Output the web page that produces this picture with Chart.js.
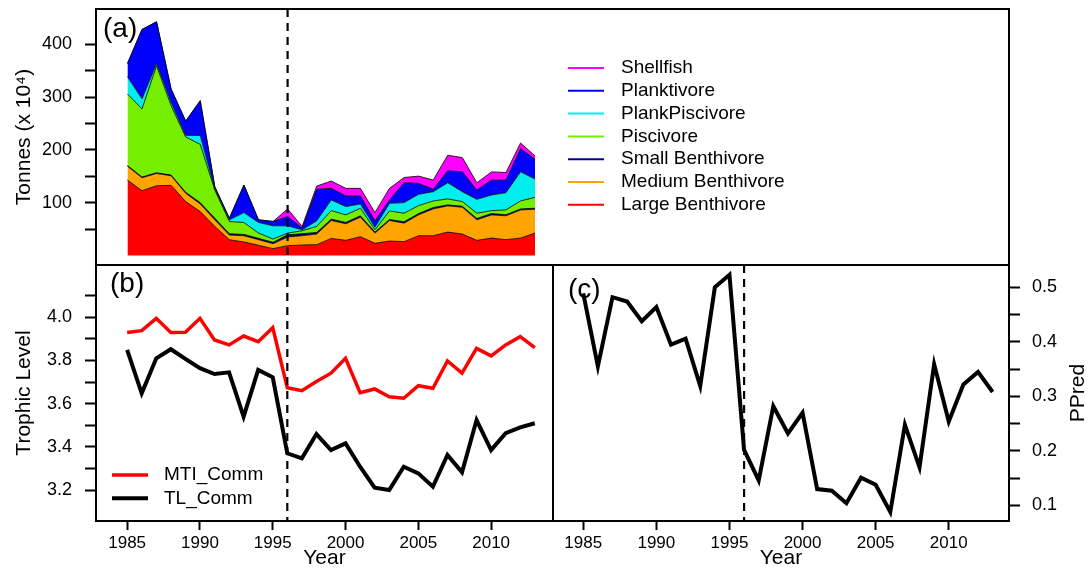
<!DOCTYPE html>
<html>
<head>
<meta charset="utf-8">
<title>Catch composition and trophic indices, 1985-2013</title>
<script src="https://cdn.jsdelivr.net/npm/chart.js@4.4.0/dist/chart.umd.min.js"></script>
<style>
  html, body { margin: 0; padding: 0; background: #fff; }
  #wrap { position: relative; width: 1091px; height: 571px; }
  #wrap canvas { position: absolute; left: 0; top: 0; }
</style>
</head>
<body>
<div id="wrap">
  <canvas id="catchChart" width="1091" height="571"></canvas>
  <canvas id="trophicChart" width="1091" height="571"></canvas>
  <canvas id="predChart" width="1091" height="571"></canvas>
</div>
<script>
// 年份
const years = [1985, 1986, 1987, 1988, 1989, 1990, 1991, 1992, 1993, 1994,
    1995, 1996, 1997, 1998, 1999, 2000, 2001, 2002, 2003, 2004,
    2005, 2006, 2007, 2008, 2009, 2010, 2011, 2012, 2013];

// (a) 各功能群渔获量 (x 10^4 吨)
const largeBenthivore = [142.9, 122.8, 132.2, 132.8, 102.1, 83.2, 55.0, 29.9, 25.5, 19.3,
    13.0, 18.6, 19.9, 20.5, 32.4, 28.7, 35.6, 23.0, 27.4, 26.2,
    37.5, 37.5, 44.4, 40.6, 28.7, 33.0, 30.0, 33.0, 42.5];
const mediumBenthivore = [26.3, 24.5, 23.2, 18.2, 15.7, 14.4, 12.5, 8.8, 11.9, 10.7,
    9.4, 16.3, 17.6, 20.1, 33.9, 31.4, 37.0, 19.4, 38.9, 35.1,
    39.5, 50.8, 49.6, 50.8, 38.9, 43.9, 45.2, 53.3, 45.2];
const smallBenthivore = [1.3, 1.3, 1.3, 1.3, 1.9, 2.5, 3.1, 2.5, 2.5, 2.5,
    2.5, 4.4, 3.8, 3.1, 2.5, 2.5, 2.5, 1.9, 1.9, 2.5,
    2.5, 2.5, 1.9, 1.9, 2.5, 2.5, 1.9, 1.9, 1.9];
const piscivore = [135.5, 129.2, 202.6, 131.7, 104.8, 110.4, 53.3, 23.2, 22.6, 10.0,
    6.3, 3.1, 5.6, 11.3, 16.3, 14.4, 14.4, 4.4, 16.3, 16.3,
    15.1, 12.5, 11.3, 8.8, 10.0, 5.6, 9.4, 15.1, 20.7];
const plankPiscivore = [32.6, 18.8, 4.4, 6.3, 3.1, 16.9, 3.1, 3.1, 18.8, 20.1,
    25.1, 13.8, 1.9, 10.7, 20.1, 15.7, 8.2, 5.0, 14.4, 20.1,
    21.3, 17.6, 30.7, 18.8, 26.3, 29.5, 32.6, 55.2, 34.5];
const planktivore = [25.1, 131.7, 79.0, 25.1, 27.0, 65.9, 3.1, 3.1, 52.1, 5.0,
    8.2, 17.6, 3.1, 59.6, 22.0, 20.1, 15.1, 11.9, 6.3, 37.6,
    20.7, 4.4, 22.6, 37.6, 17.6, 28.2, 23.8, 43.9, 37.6];
const shellfish = [0, 0, 0, 0, 0, 0, 0, 0, 0, 0,
    0, 14.4, 3.1, 6.3, 13.8, 14.4, 14.4, 15.7, 22.0, 10.0,
    13.8, 17.6, 29.5, 27.0, 13.8, 15.7, 14.4, 10.7, 6.3];

// (b) 营养级指数
const mtiComm = [3.929, 3.938, 3.995, 3.929, 3.930, 3.995, 3.895, 3.872, 3.913, 3.887,
    3.952, 3.674, 3.660, 3.702, 3.741, 3.810, 3.651, 3.668, 3.632, 3.625,
    3.683, 3.671, 3.798, 3.741, 3.856, 3.821, 3.872, 3.910, 3.859];
const tlComm = [3.849, 3.648, 3.810, 3.852, 3.807, 3.764, 3.737, 3.745, 3.540, 3.756,
    3.722, 3.370, 3.347, 3.459, 3.385, 3.416, 3.308, 3.211, 3.200, 3.308,
    3.277, 3.215, 3.362, 3.282, 3.524, 3.385, 3.463, 3.490, 3.509];

// (c) 捕食者比例
const pPred = [0.489, 0.355, 0.482, 0.474, 0.438, 0.464, 0.395, 0.406, 0.319, 0.500,
    0.523, 0.202, 0.146, 0.282, 0.232, 0.270, 0.130, 0.127, 0.104, 0.151,
    0.138, 0.088, 0.248, 0.170, 0.359, 0.254, 0.322, 0.345, 0.308];

// 刻度
const tonnesTicks = [50, 100, 150, 200, 250, 300, 350, 400];
const tonnesLabels = [100, 200, 300, 400];
const trophicTicks = [3.2, 3.3, 3.4, 3.5, 3.6, 3.7, 3.8, 3.9, 4.0, 4.1];
const trophicLabels = [3.2, 3.4, 3.6, 3.8, 4.0];
const predTicks = [0.1, 0.15, 0.2, 0.25, 0.3, 0.35, 0.4, 0.45, 0.5];
const predLabels = [0.1, 0.2, 0.3, 0.4, 0.5];
const yearTicks = [1985, 1990, 1995, 2000, 2005, 2010];
const shiftYear = 1996;

// 功能群（自下而上堆叠）
const groupNames = ['Large Benthivore', 'Medium Benthivore', 'Small Benthivore',
    'Piscivore', 'PlankPiscivore', 'Planktivore', 'Shellfish'];
const groupValues = [largeBenthivore, mediumBenthivore, smallBenthivore,
    piscivore, plankPiscivore, planktivore, shellfish];
const groupColors = ['#ff0000', '#ffa500', '#00008b', '#76ee00', '#00eeee', '#0000ff', '#ff00ff'];

const FONT = "'Liberation Sans', Arial, sans-serif";
Chart.defaults.font.family = FONT;
Chart.defaults.color = '#000';
Chart.defaults.animation = false;
Chart.defaults.events = [];
Chart.defaults.plugins.legend.display = false;
Chart.defaults.plugins.tooltip.enabled = false;

function toPoints(values) {
    return values.map((v, i) => ({ x: years[i], y: v }));
}

function fixedTicks(list) {
    return function(scale) {
        scale.ticks = list.map(v => ({ value: v }));
    };
}

function labelIf(list, digits) {
    return function(v) {
        return list.some(l => Math.abs(l - v) < 1e-9) ? v.toFixed(digits) : '';
    };
}

// 固定纵轴宽度，去掉标签带来的额外留白
function fixWidth(w) {
    return function(s) {
        s.width = w;
        s.paddingTop = 0;
        s.paddingBottom = 0;
    };
}

// 坐标轴公共样式
function axisStyle(extra) {
    return Object.assign({
        border: { display: false },
        grid: { drawOnChartArea: false, tickLength: 11, tickWidth: 2, tickColor: '#000' }
    }, extra);
}

function yearAxis(min, max) {
    return {
        type: 'linear',
        min: min,
        max: max,
        afterFit: s => { s.height = 50; s.paddingLeft = 0; s.paddingRight = 0; },
        afterBuildTicks: fixedTicks(yearTicks),
        border: { display: false },
        grid: { drawOnChartArea: false, tickLength: 9, tickWidth: 2, tickColor: '#000' },
        ticks: { padding: 3, font: { size: 17 }, autoSkip: false, maxRotation: 0, callback: v => String(v) },
        title: { display: true, text: 'Year', font: { size: 21 }, padding: { top: 0, bottom: 0 } }
    };
}

// 边框、1996 分界虚线、面板编号
const panelFrame = {
    id: 'panelFrame',
    afterDatasetsDraw(chart, args, opts) {
        const { ctx, chartArea: a, scales } = chart;
        const x = scales.x.getPixelForValue(shiftYear);
        ctx.save();
        ctx.strokeStyle = '#000';
        ctx.lineWidth = 2.2;
        ctx.setLineDash([8, 6]);
        ctx.beginPath();
        ctx.moveTo(x, a.top);
        ctx.lineTo(x, a.bottom);
        ctx.stroke();
        ctx.setLineDash([]);
        ctx.lineWidth = 2;
        ctx.strokeRect(a.left, a.top, a.right - a.left, a.bottom - a.top);
        ctx.fillStyle = '#000';
        ctx.font = '28px ' + FONT;
        ctx.textBaseline = 'middle';
        ctx.fillText(opts.label, opts.labelX, opts.labelY);
        if (opts.sideTitle) {
            ctx.translate(opts.sideTitle.x, opts.sideTitle.y);
            ctx.rotate(-Math.PI / 2);
            ctx.textAlign = 'center';
            ctx.font = '21px ' + FONT;
            ctx.fillText(opts.sideTitle.text, 0, 0);
        }
        ctx.restore();
    }
};

// 图例（线段 + 文字）
const lineKey = {
    id: 'lineKey',
    afterDraw(chart, args, opts) {
        const ctx = chart.ctx;
        const sets = chart.data.datasets.slice();
        if (opts.reverse) sets.reverse();
        ctx.save();
        ctx.font = '19px ' + FONT;
        ctx.textBaseline = 'middle';
        sets.forEach((ds, i) => {
            const y = opts.top + i * opts.step;
            ctx.strokeStyle = ds[opts.colorFrom];
            ctx.lineWidth = opts.lineWidth || ds.borderWidth;
            ctx.beginPath();
            ctx.moveTo(opts.x0, y);
            ctx.lineTo(opts.x1, y);
            ctx.stroke();
            ctx.fillStyle = '#000';
            ctx.fillText(ds.label, opts.textX, y);
        });
        ctx.restore();
    }
};

// (a) 堆叠面积图
new Chart(document.getElementById('catchChart'), {
    type: 'line',
    data: {
        datasets: groupNames.map((name, i) => ({
            label: name,
            data: toPoints(groupValues[i]),
            backgroundColor: groupColors[i],
            borderColor: '#000',
            borderWidth: 0.8,
            pointRadius: 0,
            tension: 0,
            fill: i === 0 ? 'origin' : '-1'
        }))
    },
    options: {
        responsive: false,
        layout: { padding: { left: 0, top: 9, right: 82, bottom: 306 } },
        scales: {
            x: { type: 'linear', min: 1982.84, max: 2045.55, display: false },
            y: axisStyle({
                stacked: true,
                min: -18,
                max: 467,
                afterFit: fixWidth(96),
                afterBuildTicks: fixedTicks(tonnesTicks),
                ticks: { padding: 13, font: { size: 18 }, autoSkip: false, callback: labelIf(tonnesLabels, 0) },
                title: { display: true, text: 'Tonnes (x 10⁴)', font: { size: 21 }, padding: { top: 12, bottom: 0 } }
            })
        },
        plugins: {
            panelFrame: { label: '(a)', labelX: 103, labelY: 29 },
            lineKey: { reverse: true, colorFrom: 'backgroundColor', lineWidth: 2,
                x0: 568, x1: 604, textX: 621, top: 68, step: 22.8 }
        }
    },
    plugins: [panelFrame, lineKey]
});

// (b) 营养级
new Chart(document.getElementById('trophicChart'), {
    type: 'line',
    data: {
        datasets: [{
            label: 'MTI_Comm',
            data: toPoints(mtiComm),
            borderColor: '#ff0000',
            borderWidth: 3.5,
            pointRadius: 0,
            tension: 0
        }, {
            label: 'TL_Comm',
            data: toPoints(tlComm),
            borderColor: '#000',
            borderWidth: 4,
            pointRadius: 0,
            tension: 0
        }]
    },
    options: {
        responsive: false,
        layout: { padding: { left: 0, top: 265, right: 538, bottom: 0 } },
        scales: {
            x: yearAxis(1982.86, 2014.25),
            y: axisStyle({
                min: 3.0565,
                max: 4.242,
                afterFit: fixWidth(96),
                afterBuildTicks: fixedTicks(trophicTicks),
                ticks: { padding: 13, font: { size: 18 }, autoSkip: false, callback: labelIf(trophicLabels, 1) },
                title: { display: true, text: 'Trophic Level', font: { size: 21 }, padding: { top: 12, bottom: 0 } }
            })
        },
        plugins: {
            panelFrame: { label: '(b)', labelX: 110, labelY: 284 },
            lineKey: { colorFrom: 'borderColor', x0: 112, x1: 148, textX: 164, top: 475, step: 23.3 }
        }
    },
    plugins: [panelFrame, lineKey]
});

// (c) PPred
new Chart(document.getElementById('predChart'), {
    type: 'line',
    data: {
        datasets: [{
            label: 'PPred',
            data: toPoints(pPred),
            borderColor: '#000',
            borderWidth: 4,
            pointRadius: 0,
            tension: 0
        }]
    },
    options: {
        responsive: false,
        layout: { padding: { left: 553, top: 265, right: 0, bottom: 0 } },
        scales: {
            x: yearAxis(1982.93, 2014.12),
            y: axisStyle({
                position: 'right',
                min: 0.0715,
                max: 0.541,
                afterFit: fixWidth(82),
                afterBuildTicks: fixedTicks(predTicks),
                ticks: { padding: 12, font: { size: 18 }, autoSkip: false, callback: labelIf(predLabels, 1) }
            })
        },
        plugins: {
            panelFrame: { label: '(c)', labelX: 568, labelY: 290,
                sideTitle: { text: 'PPred', x: 1078, y: 393 } }
        }
    },
    plugins: [panelFrame]
});
</script>
</body>
</html>
